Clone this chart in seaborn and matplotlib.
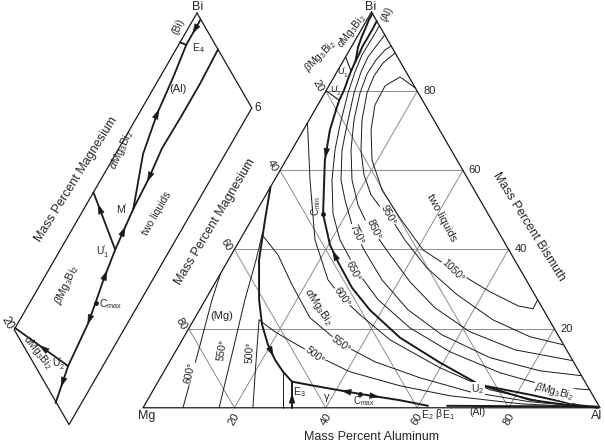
import numpy as np
import seaborn as sns
import matplotlib.pyplot as plt

# compositions in mass percent, given as (Mg, Al); Bi is the balance

grid_ticks = [20, 40, 60, 80]

# Bi-rich corner (shown in main triangle and enlarged in the inset)
l1_mg = [0.05, 1.6, 3.34, 5.36, 7.4, 9.66]
l1_al = [0.4, 0.42, 0.73, 1.0, 1.5, 2.7]
l2_mg = [0.0, 2.07, 4.2, 6.2, 8.0, 9.66]
l2_al = [2.3, 2.4, 2.4, 2.36, 2.6, 2.7]
valley_mg = [9.66, 11.95, 13.5, 14.7, 15.8, 18.2, 20.05]   # M', U1', ., Cmax, ., U2', edge
valley_al = [2.7, 3.0, 3.3, 3.6, 3.85, 4.1, 4.58]
u1_tie_mg = [11.33, 11.95]
u1_tie_al = [0.0, 3.0]
u2_tie_mg = [19.9, 18.2]
u2_tie_al = [0.0, 4.1]
e4_tie_mg = [1.85, 1.6]
e4_tie_al = [0.0, 0.42]

# monotectic valley continued in the main triangle (index 3 = Cmin, 10 = U2)
a_mg = [20.05, 24.0, 28.9, 36.1, 38.5, 38.9, 39.1, 38.0, 34.9, 29.3, 23.4, 13.65, 4.7, 0.4]
a_al = [4.58, 5.8, 8.5, 14.9, 20.3, 24.2, 30.6, 37.3, 47.4, 59.3, 70.8, 83.05, 94.6, 99.5]
u2b_mg = [23.4, 14.3, 4.85, 0.4]
u2b_al = [70.8, 83.7, 94.8, 99.5]
e1_mg = [33.2, 17.3, 0.5]
e1_al = [66.3, 82.3, 99.2]

# (Mg) / alpha-Mg3Bi2 valley down to E3
b_mg = [44.2, 49.55, 55.9, 60.95, 63.45, 64.7, 65.05, 64.8, 64.1]
b_al = [0.0, 2.95, 6.7, 11.75, 15.55, 19.4, 22.85, 26.1, 29.3]
e3v_mg = [64.1, 67.4]
e3v_al = [29.3, 32.6]
gam_mg = [65.0, 69.4]
gam_al = [26.2, 30.6]
ee_mg = [64.1, 60.0, 54.7, 50.8, 46.8, 42.8, 37.4]   # E3 -> Cmax -> E2
ee_al = [29.3, 34.4, 40.9, 45.7, 50.5, 55.3, 62.1]

# isotherms, (Mg) field
mg600_mg = [91.25, 79.55, 71.25, 66.0]
mg600_al = [8.75, 4.55, 1.45, 0.0]
mg550_mg = [83.35, 73.0, 64.05, 56.55, 52.1]
mg550_al = [16.65, 12.4, 8.65, 6.05, 4.2]
mg500_mg = [75.95, 69.2, 63.5]
mg500_al = [24.05, 18.7, 14.3]

# isotherms, Mg3Bi2 field
t600_mg = [28.03, 34.67, 41.16, 43.36, 42.57, 40.77, 37.37, 29.96, 21.8, 11.34, 0.5]
t600_al = [0.0, 7.76, 16.43, 24.32, 29.66, 35.74, 45.46, 59.94, 73.66, 87.27, 99.5]
t550_mg = [52.1, 51.14, 51.86, 52.09, 48.6, 43.43, 35.6, 26.43, 14.56, 0.5]
t550_al = [4.2, 10.22, 17.07, 25.18, 35.25, 44.96, 56.83, 69.54, 83.93, 99.5]
t500_mg = [63.5, 61.52, 59.06, 55.68, 50.16, 40.99, 31.31, 17.0, 0.5]
t500_al = [14.3, 19.29, 24.27, 30.95, 40.75, 53.46, 65.66, 81.99, 99.5]

# isotherms, liquid side
t650_mg = [0, 3.65, 7.51, 11.19, 15.37, 21.16, 25.41, 29.86, 33.93, 35.7, 35.95, 34.9, 31.5, 25.75, 17.46, 8.3, 0]
t650_al = [3.5, 3.43, 3.35, 3.97, 5.09, 7.38, 9.44, 12.57, 17.08, 21.9, 29.2, 37.8, 48.3, 60.1, 73.7, 86.4, 95.45]
t750_mg = [0, 2.96, 6.45, 9.88, 14.06, 19.6, 23.88, 27.89, 29.54, 31.16, 31.69, 31.54, 29.64, 25.36, 17.75, 8.46, 0]
t750_al = [5.8, 5.37, 4.92, 5.28, 6.4, 8.9, 10.97, 14.54, 17.94, 22.63, 28.41, 36.14, 45.61, 56.21, 69.6, 82.2, 91.9]
t850_mg = [0, 1.84, 5.08, 8.81, 12.74, 17.47, 21.91, 25.48, 27.32, 27.72, 27.17, 26.63, 25.67, 23.48, 18.85, 11.28, 0]
t850_al = [8.6, 7.75, 7.05, 6.85, 7.71, 9.8, 12.94, 16.95, 21.41, 25.31, 29.14, 34.73, 42.52, 51.27, 61.96, 74.08, 88.1]
t950_mg = [0, 3.93, 7.53, 11.21, 15.72, 19.73, 22.22, 23.2, 22.76, 21.8, 21.5, 20.2, 17.0, 12.3, 6.35, 0]
t950_al = [10.35, 8.96, 8.63, 9.24, 11.56, 15.13, 18.94, 23.0, 26.48, 29.9, 36.1, 44.5, 54.4, 65.5, 75.7, 84.1]
t1050_mg = [0, 1.97, 6.39, 11.0, 15.0, 18.57, 20.2, 19.8, 18.8, 14.7, 9.4, 5.05, 2.15, 0]
t1050_al = [19.2, 14.44, 12.3, 12.5, 14.8, 18.8, 24.8, 32.2, 41.3, 50.4, 61.3, 69.2, 72.85, 72.7]

sns.set_theme(style="white")
plt.rcParams["font.family"] = ["Liberation Sans", "DejaVu Sans"]
plt.rcParams["mathtext.fontset"] = "custom"
plt.rcParams["mathtext.rm"] = "Liberation Sans"
plt.rcParams["mathtext.it"] = "Liberation Sans:italic"

fig = plt.figure(figsize=(6.05, 4.42), dpi=100)
ax = fig.add_axes([0, 0, 1, 1])

MAIN = (371.5, 12.0, 4.57)     # Bi apex x, y and pixels per percent
INSET = (197.0, 13.0, 18.28)


def tern(mg, al, frame):
    x0, y0, s = frame
    mg = np.asarray(mg, float)
    al = np.asarray(al, float)
    return x0 + s * (al - mg) / 2, y0 + s * (al + mg) * np.sqrt(3) / 2


def curve(mg, al, frame, lw=0.7, color="#1a1a1a", z=2):
    x, y = tern(mg, al, frame)
    sns.lineplot(x=x, y=y, sort=False, estimator=None, ax=ax,
                 color=color, linewidth=lw, zorder=z)
    return x, y


def arrowhead(xy, i, t, forward=True):
    x, y = xy
    p0 = np.array([x[i], y[i]])
    p1 = np.array([x[i + 1], y[i + 1]])
    d = (p1 - p0) / np.hypot(*(p1 - p0))
    if not forward:
        d = -d
    p = p0 + t * (p1 - p0)
    ax.annotate("", xy=p + 3 * d, xytext=p - 3 * d,
                arrowprops=dict(arrowstyle="-|>,head_length=0.8,head_width=0.25",
                                color="k", lw=0.5, shrinkA=0, shrinkB=0,
                                mutation_scale=8), zorder=6)


def label(x, y, s, fs=7.5, rot=0, box=True):
    kw = dict(bbox=dict(fc="white", ec="none", pad=0.4)) if box else {}
    ax.text(x, y, s, fontsize=fs, rotation=rot, ha="center", va="center",
            rotation_mode="anchor", zorder=4, **kw)


# ---------- main triangle ----------
for v in grid_ticks:
    curve([v, v], [0, 100 - v], MAIN, 0.7, "#8c8c8c", 1)
    curve([0, 100 - v], [v, v], MAIN, 0.7, "#8c8c8c", 1)
    curve([100 - v, 0], [0, 100 - v], MAIN, 0.7, "#8c8c8c", 1)
curve([0, 100, 0, 0], [0, 0, 100, 0], MAIN, 0.9, "k", 3)

for mg, al in [(mg600_mg, mg600_al), (mg550_mg, mg550_al), (mg500_mg, mg500_al),
               (t600_mg, t600_al), (t550_mg, t550_al), (t500_mg, t500_al),
               (t650_mg, t650_al), (t750_mg, t750_al), (t850_mg, t850_al),
               (t950_mg, t950_al), (t1050_mg, t1050_al), (gam_mg, gam_al)]:
    curve(mg, al, MAIN)

for mg, al in [(u1_tie_mg, u1_tie_al), (u2_tie_mg, u2_tie_al)]:
    curve(mg, al, MAIN, 0.8, "k", 3)

bold = {}
for key, mg, al in [("l1", l1_mg, l1_al), ("l2", l2_mg, l2_al),
                    ("valley", valley_mg, valley_al), ("a", a_mg, a_al),
                    ("u2b", u2b_mg, u2b_al), ("e1", e1_mg, e1_al),
                    ("b", b_mg, b_al), ("e3v", e3v_mg, e3v_al), ("ee", ee_mg, ee_al)]:
    bold[key] = curve(mg, al, MAIN, 1.4, "k", 3)

arrowhead(bold["a"], 1, 0.85, True)
arrowhead(bold["a"], 4, 0.5, False)
arrowhead(bold["b"], 5, 0.6, True)
arrowhead(bold["e3v"], 0, 0.55, False)
arrowhead(bold["ee"], 2, 0.2, False)
arrowhead(bold["ee"], 3, 0.85, True)

cx, cy = tern([a_mg[3], ee_mg[3]], [a_al[3], ee_al[3]], MAIN)
sns.scatterplot(x=cx, y=cy, ax=ax, color="k", s=12, zorder=5, linewidth=0)

# tick labels: Al along the bottom, Mg on the left edge, Bi on the right edge
for v in grid_ticks:
    x, y = tern(100 - v, v, MAIN)
    label(x, y + 11, str(v), 8, 60, False)
    x, y = tern(v, 0, MAIN)
    label(x - 8, y - 5, str(v), 8, -60, False)
    x, y = tern(0, v, MAIN)
    label(x + 12, y, str(100 - v), 8, 0, False)

label(371, 7, "Bi", 9, 0, False)
label(147, 416, "Mg", 9, 0, False)
label(597, 416, "Al", 9, 0, False)
label(372, 437, "Mass Percent Aluminum", 9, 0, False)
label(215, 222, "Mass Percent Magnesium", 9, 59, False)
label(529, 227, "Mass Percent Bismuth", 9, -58, False)

label(222, 316, "(Mg)", 8)
label(190, 373, "600°", 7.5, 78)
label(222, 350, "550°", 7.5, 82)
label(250, 352, "500°", 7.5, 88)
label(299, 392, r"E$_3$", 7.5, 0, False)
label(327, 397, "γ", 8, 0, False)
label(364, 401, r"C$_\mathrm{max}$", 7, 0, False)
label(316, 206, r"C$_\mathrm{min}$", 7, 90, False)
label(318, 307, r"$\alpha$Mg$_3$Bi$_2$", 8, -57, False)
label(453, 271, "1050°", 7.5, -45)
label(388, 215, "950°", 7.5, -62)
label(374, 229, "850°", 7.5, -65)
label(357, 234, "750°", 7.5, -65)
label(353, 271, "650°", 7.5, -63)
label(342, 297, "600°", 7.5, -55)
label(341, 344, "550°", 7.5, -37)
label(315, 355, "500°", 7.5, -38)
label(442, 218, "two liquids", 8, -62, False)
label(478, 389, r"U$_2$", 7.5)
label(554, 391, r"$\beta$Mg$_3$Bi$_2$", 7.5, -15)
label(427, 415, r"E$_2$", 7.5, 0, False)
label(438, 414, "β", 7.5, 0, False)
label(448, 415, r"E$_1$", 7.5, 0, False)
label(478, 412, "(Al)", 7.5, 0, False)
label(320, 56, r"$\beta$Mg$_3$Bi$_2$", 7.5, 45, False)
label(352, 31, r"$\alpha$Mg$_3$Bi$_2$", 7.5, 52, False)
label(387, 14, "(Al)", 7, 65, False)
label(343, 73, r"$\mathrm{U}_1^{\prime}$", 6.5, 0, False)
label(336, 91, r"$\mathrm{U}_2^{\prime}$", 6.5, 0, False)

# ---------- inset: enlarged Bi corner ----------
curve([0, 20, 20, 0, 0], [0, 0, 6, 6, 0], INSET, 0.9, "k", 3)
ins = {}
for key, mg, al in [("l1", l1_mg, l1_al), ("l2", l2_mg, l2_al),
                    ("valley", valley_mg, valley_al), ("u1", u1_tie_mg, u1_tie_al),
                    ("u2", u2_tie_mg, u2_tie_al), ("e4", e4_tie_mg, e4_tie_al)]:
    ins[key] = curve(mg, al, INSET, 1.3, "k", 3)

arrowhead(ins["l1"], 0, 0.45, True)
arrowhead(ins["l1"], 2, 0.95, False)
arrowhead(ins["l2"], 3, 0.95, True)
arrowhead(ins["valley"], 0, 0.5, False)
arrowhead(ins["u1"], 0, 0.25, False)
arrowhead(ins["valley"], 1, 0.8, False)
arrowhead(ins["valley"], 3, 0.9, True)
arrowhead(ins["valley"], 5, 0.5, True)
arrowhead(ins["u2"], 0, 0.5, False)

cx, cy = tern([valley_mg[3]], [valley_al[3]], INSET)
sns.scatterplot(x=cx, y=cy, ax=ax, color="k", s=12, zorder=5, linewidth=0)

label(198, 7, "Bi", 9, 0, False)
label(258, 108, "6", 8.5, 0, False)
label(7, 323, "20", 8.5, -60, False)
label(76, 179, "Mass Percent Magnesium", 9, 58, False)
label(178, 27, "(Bi)", 7.5, 65, False)
label(198, 48, r"E$_4$", 7.5, 0, False)
label(178, 89, "(Al)", 8, 0, False)
label(122, 150, r"$\alpha$Mg$_3$Bi$_2$", 8, 65, False)
label(122, 209, r"M$^{\prime}$", 7.5, 0, False)
label(157, 213, "two liquids", 7.5, 60, False)
label(103, 252, r"$\mathrm{U}_1^{\prime}$", 7.5, 0, False)
label(67, 285, r"$\beta$Mg$_3$Bi$_2$", 8, 65, False)
label(111, 304, r"C$_\mathrm{max}$", 7.5, 0, False)
label(59, 364, r"$\mathrm{U}_2^{\prime}$", 7.5, 0, False)
label(38, 352, r"$\alpha$Mg$_3$Bi$_2$", 7.5, -52, False)

ax.set_xlim(0, 605)
ax.set_ylim(442, 0)
ax.axis("off")
fig.savefig("out.png", dpi=100)
